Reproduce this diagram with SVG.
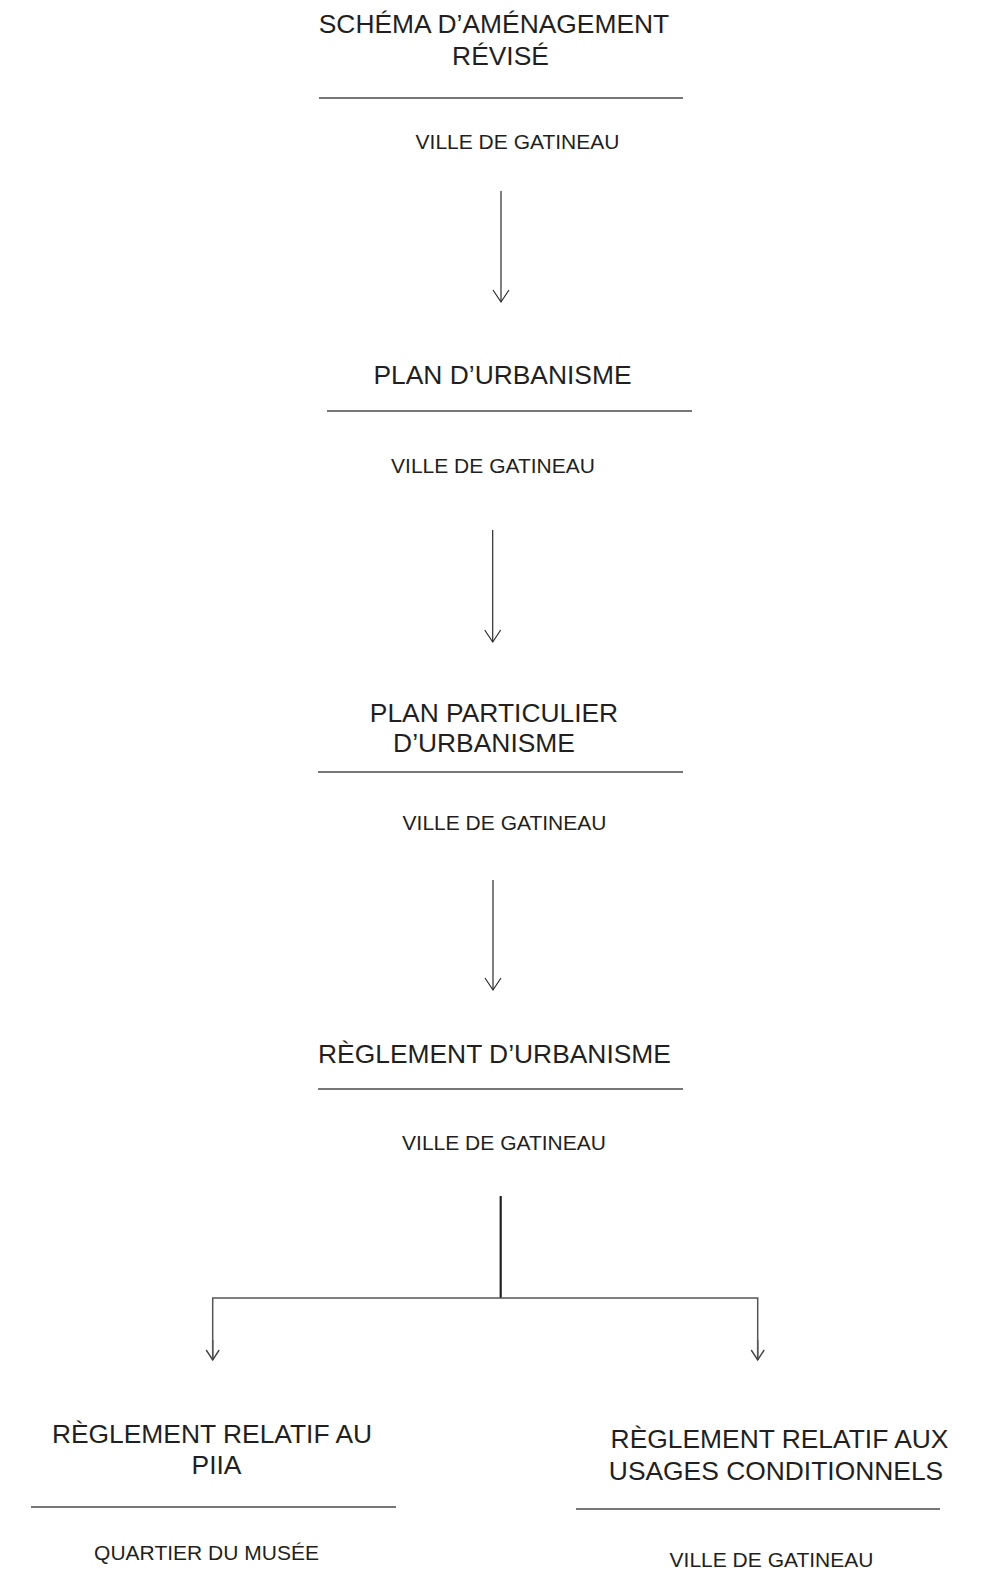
<svg xmlns="http://www.w3.org/2000/svg" width="990" height="1570" viewBox="0 0 990 1570">
<style>
.t{font-family:"Liberation Sans",Arial,sans-serif;font-size:26.4px;fill:#231f20;text-anchor:middle}
.s{font-family:"Liberation Sans",Arial,sans-serif;font-size:21px;fill:#231f20;text-anchor:middle}
.rule{stroke:#4a4a4a;stroke-width:1.4;fill:none}
.conn{stroke:#2b2b2b;stroke-width:1.2;fill:none}
</style>
<defs>
<marker id="ah" markerUnits="userSpaceOnUse" markerWidth="30" markerHeight="30" viewBox="-15 -15 30 30" refX="0" refY="0" orient="auto" overflow="visible">
<path d="M-12,-8 L0,0 L-12,8" fill="none" stroke="#2b2b2b" stroke-width="1.2"/>
</marker>
<marker id="ahs" markerUnits="userSpaceOnUse" markerWidth="30" markerHeight="30" viewBox="-15 -15 30 30" refX="0" refY="0" orient="auto" overflow="visible">
<path d="M-10,-6.5 L0,0 L-10,6.5" fill="none" stroke="#444" stroke-width="1.4"/>
</marker>
</defs>
<rect width="990" height="1570" fill="#fff"/>
<g id="node-schema">
<text class="t" x="494" y="33">SCHÉMA D’AMÉNAGEMENT</text>
<text class="t" x="500.5" y="65">RÉVISÉ</text>
<line class="rule" x1="319" y1="98" x2="683" y2="98"/>
<text class="s" x="517.5" y="149">VILLE DE GATINEAU</text>
</g>
<g id="node-plan-urbanisme">
<text class="t" x="502.5" y="384">PLAN D’URBANISME</text>
<line class="rule" x1="327" y1="411" x2="692" y2="411"/>
<text class="s" x="493" y="473">VILLE DE GATINEAU</text>
</g>
<g id="node-ppu">
<text class="t" x="494" y="722">PLAN PARTICULIER</text>
<text class="t" x="484" y="752">D’URBANISME</text>
<line class="rule" x1="318" y1="772" x2="683" y2="772"/>
<text class="s" x="504.5" y="830">VILLE DE GATINEAU</text>
</g>
<g id="node-reglement-urbanisme">
<text class="t" x="494.5" y="1063">RÈGLEMENT D’URBANISME</text>
<line class="rule" x1="318" y1="1089" x2="683" y2="1089"/>
<text class="s" x="504" y="1150">VILLE DE GATINEAU</text>
</g>
<g id="node-piia">
<text class="t" x="212" y="1443">RÈGLEMENT RELATIF AU</text>
<text class="t" x="216.5" y="1474">PIIA</text>
<line class="rule" x1="31" y1="1507" x2="396" y2="1507"/>
<text class="s" x="206.5" y="1560">QUARTIER DU MUSÉE</text>
</g>
<g id="node-usages">
<text class="t" x="779.5" y="1448">RÈGLEMENT RELATIF AUX</text>
<text class="t" x="776" y="1480">USAGES CONDITIONNELS</text>
<line class="rule" x1="576" y1="1509" x2="940" y2="1509"/>
<text class="s" x="771.5" y="1567">VILLE DE GATINEAU</text>
</g>
<g id="connectors">
<line class="conn" x1="501" y1="191" x2="501" y2="302" marker-end="url(#ah)"/>
<line class="conn" x1="492.7" y1="530" x2="492.7" y2="642" marker-end="url(#ah)"/>
<line class="conn" x1="493" y1="880" x2="493" y2="990" marker-end="url(#ah)"/>
<line x1="500.7" y1="1196" x2="500.7" y2="1298" stroke="#231f20" stroke-width="2.2"/>
<path d="M212.7,1360 V1298 H757.7 V1360" fill="none" stroke="#555" stroke-width="1.5"/>
<line x1="212.7" y1="1340" x2="212.7" y2="1360" stroke="#555" stroke-width="1.5" marker-end="url(#ahs)"/>
<line x1="757.7" y1="1340" x2="757.7" y2="1360" stroke="#555" stroke-width="1.5" marker-end="url(#ahs)"/>
</g>
</svg>
